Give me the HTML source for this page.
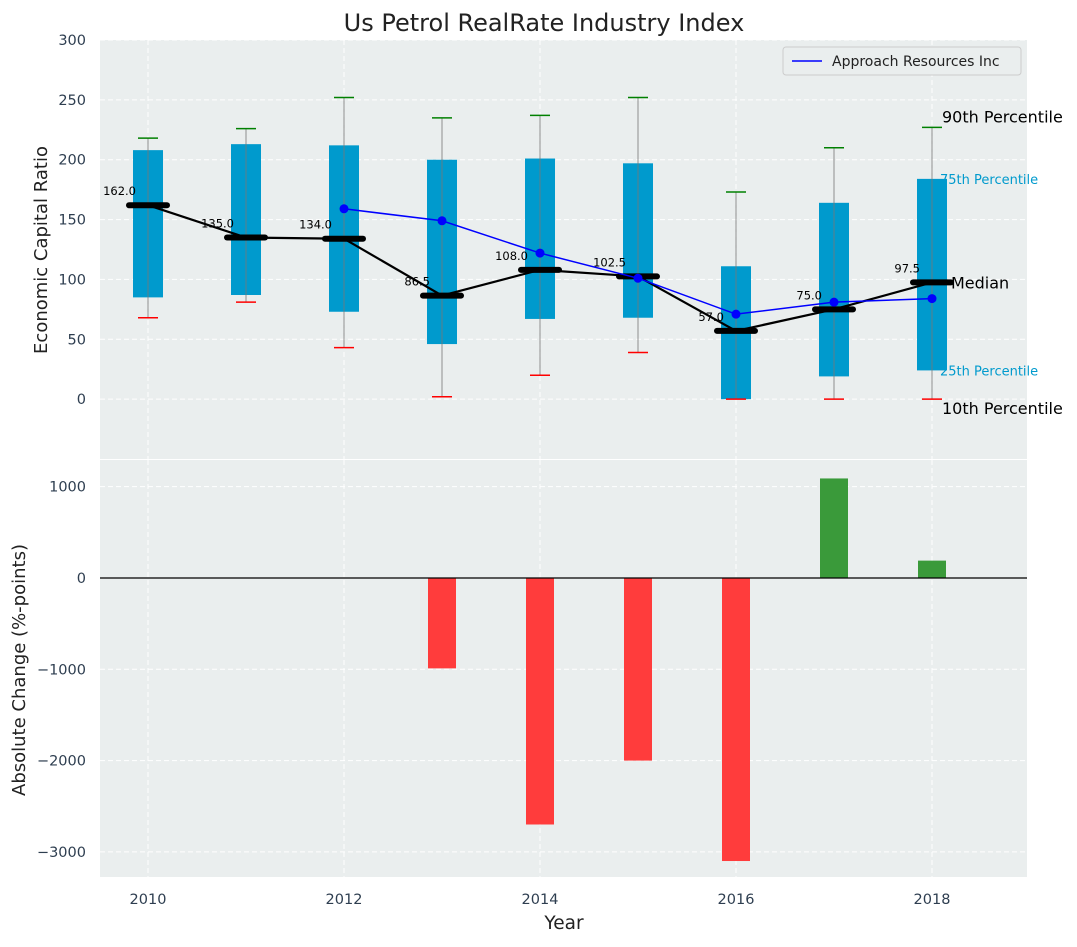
<!DOCTYPE html>
<html><head><meta charset="utf-8"><style>
body{margin:0;background:#fff;font-family:"Liberation Sans","DejaVu Sans",sans-serif}
svg text{font-family:"DejaVu Sans","Liberation Sans",sans-serif}
</style></head><body>
<svg id="c" width="1077" height="942" xmlns="http://www.w3.org/2000/svg"></svg>
<script>
const years=[2010,2011,2012,2013,2014,2015,2016,2017,2018];
const p10=[68,81,43,2,20,39,0,0,0];
const p25=[85,87,73,46,67,68,0,19,24];
const p75=[208,213,212,200,201,197,111,164,184];
const p90=[218,226,252,235,237,252,173,210,227];
const medians=[162,135,134,86.5,108,102.5,57,75,97.5];
const compYears=[2012,2013,2014,2015,2016,2017,2018];
const compVals=[159,149,122,101,71,81,84];
const changeVals=[0,0,0,-990,-2700,-2000,-3100,1090,190];
const topTicks=[0,50,100,150,200,250,300];
const botTicks=[-3000,-2000,-1000,0,1000];
const xTicks=[2010,2012,2014,2016,2018];

const NS="http://www.w3.org/2000/svg",svg=document.getElementById('c');
function el(t,a,p){const e=document.createElementNS(NS,t);for(const k in a)e.setAttribute(k,a[k]);(p||svg).appendChild(e);return e;}
const L=100,R=1027;
const x=v=>148+(v-2010)*98;
const T0=40,T1=459,B0=460,B1=877;
const yT=v=>T1-(v+50)/350*(T1-T0);
const yB=v=>B1-(v+3275)/(1292+3275)*(B1-B0);

let e=el('rect',{x:L,y:T0,width:R-L,height:T1-T0,fill:'#eaeeee'});

e=el('rect',{x:L,y:B0,width:R-L,height:B1-B0,fill:'#eaeeee'});

topTicks.forEach(t=>{el('line',{x1:L,x2:R,y1:yT(t),y2:yT(t),stroke:'#fff','stroke-dasharray':'5,3','stroke-width':1});
 e=el('text',{x:L-14,y:yT(t)+5,'text-anchor':'end','font-size':14.5,fill:'#2e3e50'});e.textContent=t;
 });
botTicks.forEach(t=>{el('line',{x1:L,x2:R,y1:yB(t),y2:yB(t),stroke:'#fff','stroke-dasharray':'5,3','stroke-width':1});
 e=el('text',{x:L-14,y:yB(t)+5,'text-anchor':'end','font-size':14.5,fill:'#2e3e50'});e.textContent=(t<0?'\u2212'+(-t):t);
 });
xTicks.forEach(t=>{el('line',{x1:x(t),x2:x(t),y1:T0,y2:T1,stroke:'#fff','stroke-dasharray':'5,3'});
 el('line',{x1:x(t),x2:x(t),y1:B0,y2:B1,stroke:'#fff','stroke-dasharray':'5,3'});
 e=el('text',{x:x(t),y:B1+27,'text-anchor':'middle','font-size':14.5,fill:'#2e3e50'});e.textContent=t;
 });

// percentile labels for 75/25 drawn behind boxes
const ax=x(2018)+10,li=years.length-1;
[['75th Percentile',p75[li]],['25th Percentile',p25[li]]].forEach(a=>{
 e=el('text',{x:ax-2,y:yT(a[1])+5,'font-size':13,fill:'#009acd'});e.textContent=a[0];
 });

years.forEach((yr,i)=>{const cx=x(yr);
 e=el('rect',{x:cx-15,y:yT(p75[i]),width:30,height:yT(p25[i])-yT(p75[i]),fill:'#009acd'});
 
 el('line',{x1:cx,x2:cx,y1:yT(p90[i]),y2:yT(p10[i]),stroke:'#777','stroke-width':1,opacity:0.8});
 el('line',{x1:cx-10,x2:cx+10,y1:yT(p90[i]),y2:yT(p90[i]),stroke:'green','stroke-width':1.5});
 el('line',{x1:cx-10,x2:cx+10,y1:yT(p10[i]),y2:yT(p10[i]),stroke:'red','stroke-width':1.5});
});
e=el('polyline',{points:years.map((yr,i)=>x(yr)+','+yT(medians[i])).join(' '),fill:'none',stroke:'#000','stroke-width':2.2});

years.forEach((yr,i)=>{const cx=x(yr),cy=yT(medians[i]);
 el('line',{x1:cx-19,x2:cx+19,y1:cy,y2:cy,stroke:'#000','stroke-width':6,'stroke-linecap':'round'});
 e=el('text',{x:cx-12,y:cy-10,'text-anchor':'end','font-size':11.5,fill:'#000'});e.textContent=medians[i].toFixed(1);
 });
e=el('polyline',{points:compYears.map((yr,i)=>x(yr)+','+yT(compVals[i])).join(' '),fill:'none',stroke:'blue','stroke-width':1.5});

compYears.forEach((yr,i)=>{e=el('circle',{cx:x(yr),cy:yT(compVals[i]),r:4.5,fill:'blue'});
 });
[['90th Percentile',yT(p90[li])-5,ax],['Median',yT(medians[li])+6,ax+9],['10th Percentile',yT(p10[li])+15,ax]].forEach(a=>{
 e=el('text',{x:a[2],y:a[1],'font-size':16,fill:'#000'});e.textContent=a[0];
 });
const lg=el('g',{});
el('rect',{x:783,y:47,width:238,height:28,rx:3,fill:'#eaeeee',stroke:'#ccc'},lg);
el('line',{x1:792,x2:822,y1:61,y2:61,stroke:'blue','stroke-width':1.5},lg);
e=el('text',{x:832,y:66,'font-size':14,fill:'#222'},lg);e.textContent='Approach Resources Inc';

years.forEach((yr,i)=>{const v=changeVals[i];if(!v)return;
 e=el('rect',{x:x(yr)-14,y:Math.min(yB(v),yB(0)),width:28,height:Math.abs(yB(v)-yB(0)),fill:v<0?'#ff3c3c':'#3a9a3a'});
 });
el('line',{x1:L,x2:R,y1:yB(0),y2:yB(0),stroke:'#000','stroke-width':1.2});

e=el('text',{x:544,y:31,'text-anchor':'middle','font-size':24,fill:'#222'});e.textContent='Us Petrol RealRate Industry Index';

e=el('text',{x:47,y:250,'text-anchor':'middle','font-size':18,fill:'#222',transform:'rotate(-90 47 250)'});e.textContent='Economic Capital Ratio';

e=el('text',{x:25,y:670,'text-anchor':'middle','font-size':18,fill:'#222',transform:'rotate(-90 25 670)'});e.textContent='Absolute Change (%-points)';

e=el('text',{x:564,y:929,'text-anchor':'middle','font-size':18.5,fill:'#222'});e.textContent='Year';

</script></body></html>
